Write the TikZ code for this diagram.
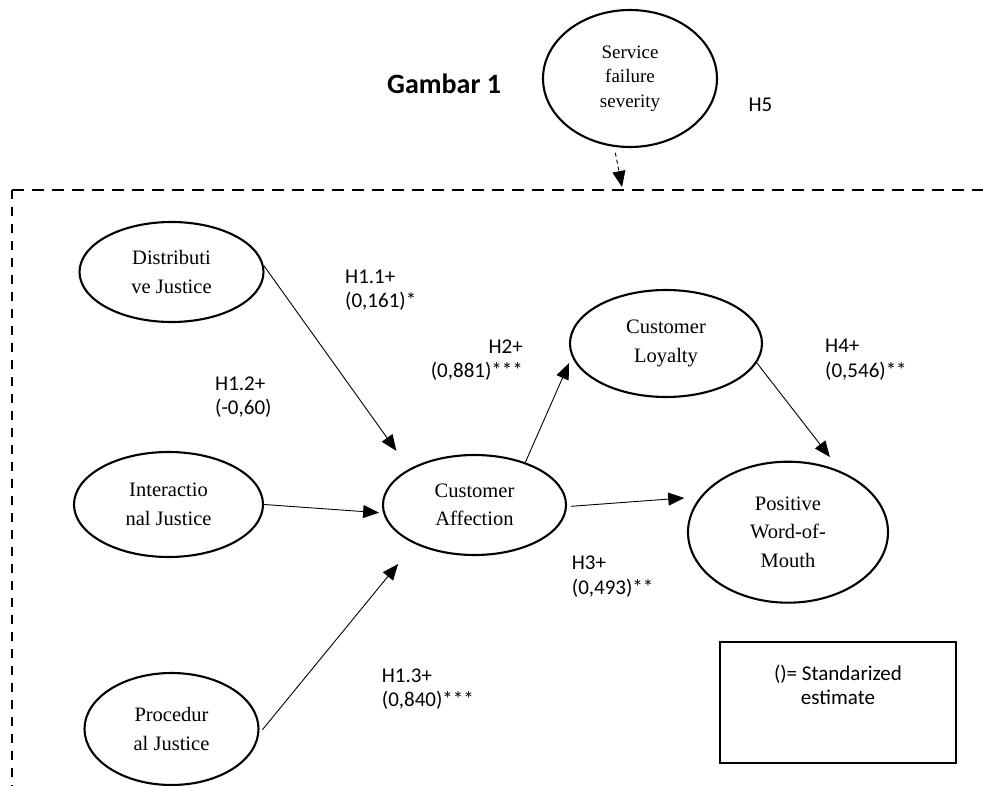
\documentclass[tikz,border=0pt]{standalone}
\usepackage{fontspec}
\setmainfont{Liberation Serif}
\newfontfamily\labfont{Carlito}
\usetikzlibrary{shapes.geometric,arrows.meta,calc}
\begin{document}
\begin{tikzpicture}[x=1pt,y=-1pt,
  ell/.style={ellipse,draw,line width=2.1pt,inner sep=0pt,align=center,font=\fontsize{20.5}{28.5}\selectfont},
  lbl/.style={font=\labfont\fontsize{21}{24.5}\selectfont,inner sep=0pt,align=left,anchor=north west},
  arr/.style={-{Triangle[length=16pt,width=13pt]},line width=0.9pt},
  frame/.style={line width=2pt}]
\useasboundingbox (0,0) rectangle (983,786);

% ellipses
\node[ell,minimum width=174pt,minimum height=137pt,font=\fontsize{19}{24.5}\selectfont] (sf) at (630,78.5) {Service\\failure\\severity};
\node[ell,minimum width=184pt,minimum height=100pt] (dj) at (171.5,272) {Distributi\\ve Justice};
\node[ell,minimum width=189pt,minimum height=105pt] (ij) at (168.5,504.5) {Interactio\\nal Justice};
\node[ell,minimum width=174pt,minimum height=112pt] (pj) at (171.5,729) {Procedur\\al Justice};
\node[ell,minimum width=183pt,minimum height=100pt] (ca) at (474.5,505) {Customer\\Affection};
\node[ell,minimum width=192pt,minimum height=107pt] (cl) at (666,343.5) {Customer\\Loyalty};
\node[ell,minimum width=200pt,minimum height=141pt] (pw) at (788,532.2) {Positive\\Word-of-\\Mouth};

% dashed frame
\coordinate (fc) at (12,190);
\coordinate (fr) at (983,190);
\coordinate (fb) at (12,786);
\draw[frame,dash pattern=on 12pt off 8pt] (fc) -- (fr);
\draw[frame,dash pattern=on 9pt off 8pt] (fc) -- (fb);

% connectors
\draw[arr,shorten >=22pt] (dj.4) -- (ca.151);
\draw[arr,shorten >=4pt] (ij.0) -- (ca.185);
\draw[arr,shorten <=5pt,shorten >=26pt] (pj.-3) -- (ca.213);
\draw[arr,shorten >=7pt] (ca.40) -- (cl.188);
\draw[arr,shorten >=18pt] (cl.-12) -- (pw.49);
\draw[arr,shorten <=4pt,shorten >=16pt] (ca.-1) -- (pw.158);
\coordinate (sftip) at (622,187);
\draw[arr,dash pattern=on 4pt off 3pt,shorten <=6pt] (sf.257) -- (sftip);

% labels
\node[font=\labfont\bfseries\fontsize{28}{34}\selectfont,anchor=base west,inner sep=0pt] (gam) at (387,94) {Gambar 1};
\node[lbl,anchor=base west] (h5) at (748.3,111.7) {H5};
\node[lbl] (h11) at (345,269.5) {H1.1+\\(0,161)*};
\node[lbl] (h12) at (215,376.5) {H1.2+\\(-0,60)};
\node[lbl,align=right,anchor=north east] (h2) at (523,339.2) {H2+\\(0,881)***};
\node[lbl] (h4) at (825,339.2) {H4+\\(0,546)**};
\node[lbl] (h3) at (571.7,555.8) {H3+\\(0,493)**};
\node[lbl] (h13) at (381.7,668.2) {H1.3+\\(0,840)***};

% legend
\node[draw,line width=2pt,minimum width=236pt,minimum height=121pt,inner sep=0pt] (leg) at (838,702.5) {};
\node[lbl,align=center,anchor=north] (legt) at (838,664.5) {()= Standarized\\estimate};
\end{tikzpicture}
\end{document}
